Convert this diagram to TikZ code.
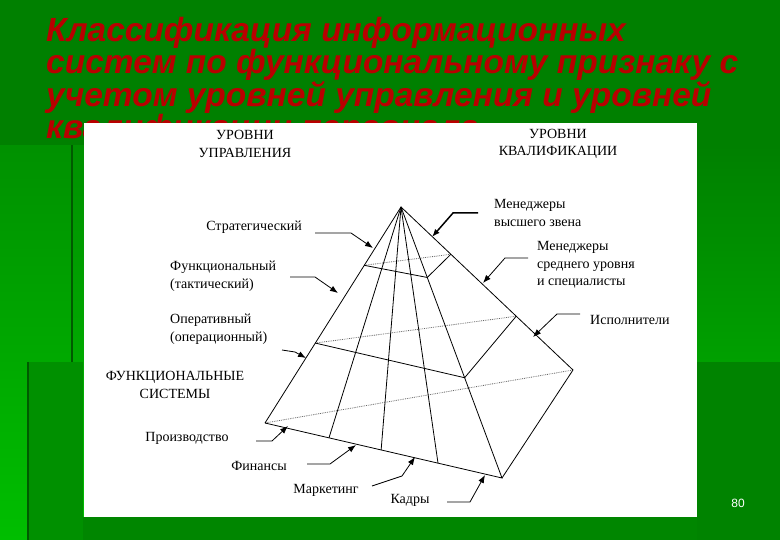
\documentclass[tikz,border=0pt]{standalone}
\usepackage{fontspec}
\setmainfont{Liberation Serif}
\newfontfamily\titlefont{Liberation Sans}
\usetikzlibrary{arrows.meta,calc}
\definecolor{bgA}{RGB}{0,128,0}
\definecolor{bgB}{RGB}{0,190,0}
\definecolor{bgC}{RGB}{0,160,0}
\definecolor{titlered}{RGB}{185,0,0}
\begin{document}
\begin{tikzpicture}[x=1pt,y=-1pt,
  lbl/.style={font=\fontsize{14}{17.5}\selectfont, align=left, inner sep=0pt},
  clbl/.style={font=\fontsize{14}{17.5}\selectfont, align=center, inner sep=0pt},
  edge/.style={line width=0.8pt},
  hid/.style={line width=0.8pt, densely dotted, black!60},
  lead/.style={line width=0.8pt, -{Latex[length=8pt,width=6pt]}}]
\useasboundingbox (0,0) rectangle (780,540);
% background
\shade[top color=bgA, bottom color=bgB, shading angle=0] (0,0) rectangle (780,540);
\fill[bgA] (0,0) rectangle (780,145);
\shade[top color=bgA, bottom color=bgC] (697,145) rectangle (780,362);
\fill[bgA!95!bgB] (697,362) rectangle (780,540);
\fill[bgA!75!bgB] (28,362) rectangle (83,540);
\fill[bgA!90!bgB] (83,517) rectangle (697,540);
\draw[bgA!70!black, line width=1.5pt] (72,145) -- (72,362);
\draw[bgA!70!black, line width=1.5pt] (28,362) -- (28,540);
% title
\node[anchor=north west, align=left, inner sep=0pt, text=titlered,
  font=\titlefont\bfseries\itshape\fontsize{33.5}{28.5}\selectfont] (title) at (46,17)
  {Классификация информационных\\систем по функциональному признаку с\\учетом уровней управления и уровней\\квалификации персонала};
\fill[white] (84,123) rectangle (697,517);
\node[text=white, font=\titlefont\fontsize{12}{12}\selectfont] (pg) at (738,503) {80};
% pyramid points
\coordinate (A) at (401,207);
\coordinate (L) at (265,423);
\coordinate (F) at (502,478);
\coordinate (R) at (573,370);
\coordinate (L1) at ($(A)!0.27!(L)$);
\coordinate (F1) at ($(A)!0.26!(F)$);
\coordinate (R1) at ($(A)!0.29!(R)$);
\coordinate (L2) at ($(A)!0.63!(L)$);
\coordinate (F2) at ($(A)!0.63!(F)$);
\coordinate (R2) at ($(A)!0.67!(R)$);
\draw[hid] (L) -- (R);
\draw[hid] (L1) -- (R1);
\draw[hid] (L2) -- (R2);
\draw[edge] (L) -- (A) -- (F) -- (L) (A) -- (R) -- (F);
\draw[edge] (L1) -- (F1) -- (R1);
\draw[edge] (L2) -- (F2) -- (R2);
\draw[edge] (A) -- ($(L)!0.27!(F)$);
\draw[edge] (A) -- ($(L)!0.49!(F)$);
\draw[edge] (A) -- ($(L)!0.73!(F)$);
% headings
\node[clbl] (hU) at (245,144) {УРОВНИ\\УПРАВЛЕНИЯ};
\node[clbl] (hK) at (558,144) {УРОВНИ\\КВАЛИФИКАЦИИ};
\node[clbl] (hF) at (175,385) {ФУНКЦИОНАЛЬНЫЕ\\СИСТЕМЫ};
% left labels
\node[lbl, anchor=east] (s) at (302,227) {Стратегический};
\node[lbl, anchor=west] (t) at (170,276) {Функциональный\\(тактический)};
\node[lbl, anchor=west] (o) at (170,329) {Оперативный\\(операционный)};
\coordinate (s1) at (351,233); \coordinate (sT) at (373,248);
\coordinate (t1) at (315,277); \coordinate (tT) at (338,293);
\coordinate (o1) at (295,352); \coordinate (oT) at (306,358);
\draw[lead] (315,233) -- (s1) -- (sT);
\draw[lead] (290,277) -- (t1) -- (tT);
\draw[lead] (282,350) -- (o1) -- (oT);
% bottom labels
\node[lbl] (p) at (187,438) {Производство};
\node[lbl] (f) at (259,466) {Финансы};
\node[lbl] (m) at (326,490) {Маркетинг};
\node[lbl] (k) at (410,500) {Кадры};
\coordinate (p1) at (272,441); \coordinate (pT) at (288,426);
\coordinate (f1) at (330,464); \coordinate (fT) at (356,445);
\coordinate (m1) at (402,476); \coordinate (mT) at (415,457);
\coordinate (k1) at (470,502); \coordinate (kT) at (485,475);
\draw[lead] (256,441) -- (p1) -- (pT);
\draw[lead] (307,464) -- (f1) -- (fT);
\draw[lead] (372,486) -- (m1) -- (mT);
\draw[lead] (447,502) -- (k1) -- (kT);
% right labels
\node[lbl, anchor=west] (v) at (494,213) {Менеджеры\\высшего звена};
\node[lbl, anchor=west] (c) at (537,265) {Менеджеры\\среднего уровня\\и специалисты};
\node[lbl, anchor=west] (i) at (590,320) {Исполнители};
\coordinate (v1) at (453,213); \coordinate (vT) at (432,237);
\coordinate (c1) at (505,258); \coordinate (cT) at (483,283);
\coordinate (i1) at (557,314); \coordinate (iT) at (533,337);
\draw[lead, line width=1.5pt] (478,213) -- (v1) -- (vT);
\draw[lead] (528,258) -- (c1) -- (cT);
\draw[lead] (580,314) -- (i1) -- (iT);
\end{tikzpicture}
\end{document}
